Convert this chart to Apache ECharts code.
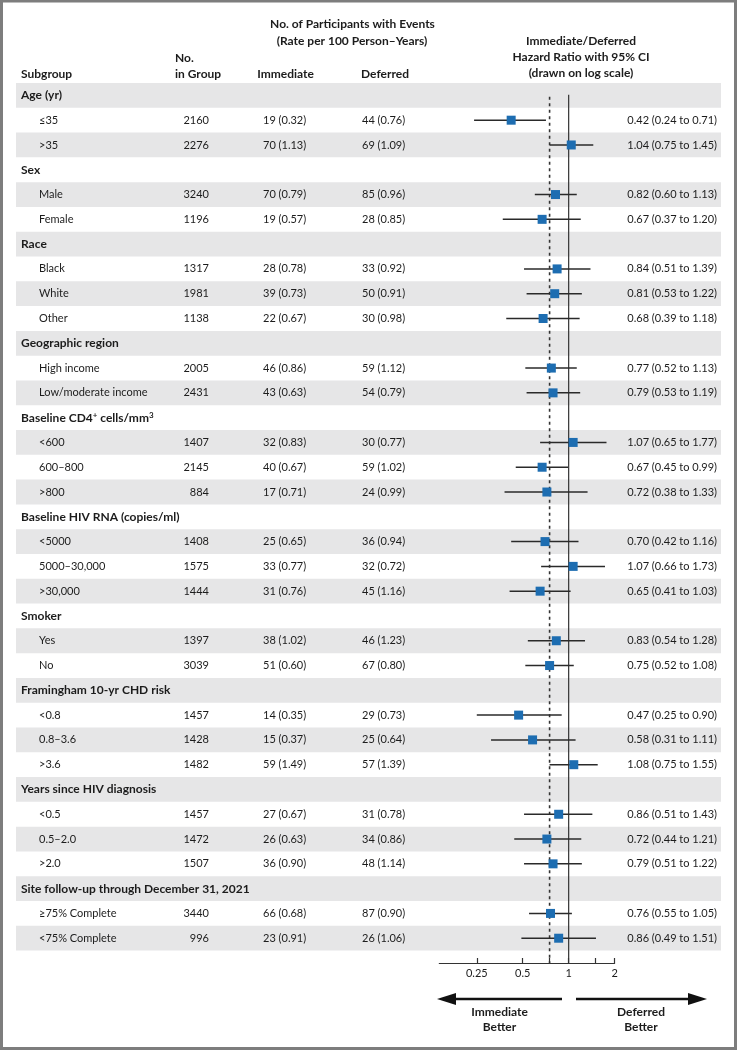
<!DOCTYPE html>
<html>
<head>
<meta charset="utf-8">
<script src="https://cdn.jsdelivr.net/npm/echarts@6/dist/echarts.min.js"></script>
<style>
  html, body { margin: 0; padding: 0; background: #fff; }
  #chart { width: 737px; height: 1050px; }
</style>
</head>
<body>
<div id="chart"></div>
<script>
  // rows of the table (header rows have no numbers)
  var rowNames = ['Age (yr)', '≤35', '>35', 'Sex', 'Male', 'Female', 'Race', 'Black', 'White', 'Other',
    'Geographic region', 'High income', 'Low/moderate income',
    'Baseline CD4{sup|+} cells/mm{sup|3}', '<600', '600–800', '>800',
    'Baseline HIV RNA (copies/ml)', '<5000', '5000–30,000', '>30,000',
    'Smoker', 'Yes', 'No',
    'Framingham 10-yr CHD risk', '<0.8', '0.8–3.6', '>3.6',
    'Years since HIV diagnosis', '<0.5', '0.5–2.0', '>2.0',
    'Site follow-up through December 31, 2021', '≥75% Complete', '<75% Complete'];
  var nGroup = [null, 2160, 2276, null, 3240, 1196, null, 1317, 1981, 1138, null, 2005, 2431, null, 1407, 2145, 884,
    null, 1408, 1575, 1444, null, 1397, 3039, null, 1457, 1428, 1482, null, 1457, 1472, 1507, null, 3440, 996];
  var immEvents = [null, 19, 70, null, 70, 19, null, 28, 39, 22, null, 46, 43, null, 32, 40, 17,
    null, 25, 33, 31, null, 38, 51, null, 14, 15, 59, null, 27, 26, 36, null, 66, 23];
  var immRate = [null, 0.32, 1.13, null, 0.79, 0.57, null, 0.78, 0.73, 0.67, null, 0.86, 0.63, null, 0.83, 0.67, 0.71,
    null, 0.65, 0.77, 0.76, null, 1.02, 0.60, null, 0.35, 0.37, 1.49, null, 0.67, 0.63, 0.90, null, 0.68, 0.91];
  var defEvents = [null, 44, 69, null, 85, 28, null, 33, 50, 30, null, 59, 54, null, 30, 59, 24,
    null, 36, 32, 45, null, 46, 67, null, 29, 25, 57, null, 31, 34, 48, null, 87, 26];
  var defRate = [null, 0.76, 1.09, null, 0.96, 0.85, null, 0.92, 0.91, 0.98, null, 1.12, 0.79, null, 0.77, 1.02, 0.99,
    null, 0.94, 0.72, 1.16, null, 1.23, 0.80, null, 0.73, 0.64, 1.39, null, 0.78, 0.86, 1.14, null, 0.90, 1.06];
  var hr = [null, 0.42, 1.04, null, 0.82, 0.67, null, 0.84, 0.81, 0.68, null, 0.77, 0.79, null, 1.07, 0.67, 0.72,
    null, 0.70, 1.07, 0.65, null, 0.83, 0.75, null, 0.47, 0.58, 1.08, null, 0.86, 0.72, 0.79, null, 0.76, 0.86];
  var ciLow = [null, 0.24, 0.75, null, 0.60, 0.37, null, 0.51, 0.53, 0.39, null, 0.52, 0.53, null, 0.65, 0.45, 0.38,
    null, 0.42, 0.66, 0.41, null, 0.54, 0.52, null, 0.25, 0.31, 0.75, null, 0.51, 0.44, 0.51, null, 0.55, 0.49];
  var ciHigh = [null, 0.71, 1.45, null, 1.13, 1.20, null, 1.39, 1.22, 1.18, null, 1.13, 1.19, null, 1.77, 0.99, 1.33,
    null, 1.16, 1.73, 1.03, null, 1.28, 1.08, null, 0.90, 1.11, 1.55, null, 1.43, 1.21, 1.22, null, 1.05, 1.51];

  // log-scale axis
  var tickValues = [0.25, 0.5, 0.75, 1, 1.5, 2];
  var tickLabels = [0.25, 0.5, 1, 2];
  var axisMin = 0.142, axisMax = 2;
  var overallHR = 0.75;

  var FONT = 'Lato, "Open Sans", sans-serif';
  var INK = '#1c1c1c';
  var l2 = function (v) { return Math.log(v) / Math.LN2; };

  var myChart = echarts.init(document.getElementById('chart'));

  function fmtRate(n, r) { return n + ' (' + r.toFixed(2) + ')'; }

  function renderRow(params, api) {
    var i = api.value(1);
    var y = api.coord([0, i])[1];
    var h = api.size([0, 1])[1];
    var head = nGroup[i] == null;
    var kids = [];
    if (i % 2 === 0) {
      kids.push({ type: 'rect', shape: { x: 16, y: y - h / 2, width: 705, height: h }, style: { fill: '#e6e6e7' } });
    }
    kids.push({
      type: 'text',
      style: {
        text: rowNames[i], x: head ? 21 : 39, y: y, align: 'left', verticalAlign: 'middle',
        fontFamily: FONT, fontSize: head ? 12 : 11, fontWeight: head ? 'bold' : 'normal', fill: INK,
        rich: { sup: { fontSize: 8, fontWeight: 'bold', fontFamily: FONT, verticalAlign: 'top', fill: INK } }
      }
    });
    if (!head) {
      var cell = function (txt, x, al) {
        return { type: 'text', style: { text: txt, x: x, y: y, align: al, verticalAlign: 'middle', fontFamily: FONT, fontSize: 11, fill: INK } };
      };
      kids.push(cell(String(nGroup[i]), 209, 'right'));
      kids.push(cell(fmtRate(immEvents[i], immRate[i]), 263, 'left'));
      kids.push(cell(fmtRate(defEvents[i], defRate[i]), 362, 'left'));
      kids.push(cell(hr[i].toFixed(2) + ' (' + ciLow[i].toFixed(2) + ' to ' + ciHigh[i].toFixed(2) + ')', 717, 'right'));
    }
    return { type: 'group', children: kids };
  }

  function renderCI(params, api) {
    var a = api.coord([api.value(0), api.value(2)]);
    var b = api.coord([api.value(1), api.value(2)]);
    return { type: 'line', shape: { x1: a[0], y1: a[1], x2: b[0], y2: b[1] }, style: { stroke: '#2a2a2a', lineWidth: 1.5 } };
  }

  var ciData = [], pointData = [];
  rowNames.forEach(function (n, i) {
    if (hr[i] != null) {
      ciData.push([l2(ciLow[i]), l2(ciHigh[i]), i]);
      pointData.push([l2(hr[i]), i]);
    }
  });

  function hText(txt, x, y, al) {
    return { type: 'text', x: x, y: y, style: { text: txt, align: al || 'center', verticalAlign: 'middle', fontFamily: FONT, fontSize: 12, fontWeight: 'bold', fill: INK } };
  }

  var option = {
    animation: false,
    grid: { left: 439.3, width: 175.3, top: 83, height: 880 },
    xAxis: {
      type: 'value', min: l2(axisMin), max: l2(axisMax), z: 6,
      splitLine: { show: false },
      axisLine: { onZero: false, lineStyle: { color: '#333', width: 1.2 } },
      axisTick: { inside: true, length: 5, customValues: tickValues.map(l2), lineStyle: { color: '#333', width: 1.2 } },
      axisLabel: {
        customValues: tickLabels.map(l2), margin: 5, fontFamily: FONT, fontSize: 11, color: INK,
        formatter: function (v) { return String(+Math.pow(2, v).toFixed(2)); }
      }
    },
    yAxis: { type: 'value', inverse: true, min: -0.5, max: 35, show: false },
    series: [
      {
        type: 'custom', name: 'table', z: 1, clip: false,
        data: rowNames.map(function (n, i) { return [0, i]; }),
        encode: { x: 0, y: 1 },
        renderItem: renderRow
      },
      {
        type: 'line', z: 3, symbol: 'none', data: [[0, -0.03], [0, 35]],
        lineStyle: { color: '#333', width: 1.2 }
      },
      {
        type: 'line', z: 3, symbol: 'none', data: [[l2(overallHR), 0.05], [l2(overallHR), 35]],
        lineStyle: { color: '#333', width: 1.6, type: [3, 3.5] }
      },
      {
        type: 'custom', z: 4, data: ciData, encode: { x: [0, 1], y: 2 },
        renderItem: renderCI
      },
      {
        type: 'scatter', z: 5, symbol: 'rect', symbolSize: 9, data: pointData,
        itemStyle: { color: '#1d6db1', opacity: 1 }
      }
    ],
    graphic: [
      { type: 'rect', shape: { x: 1.5, y: 1, width: 734, height: 1047.5 }, style: { fill: 'none', stroke: '#7d7d7d', lineWidth: 3 }, silent: true },
      hText('No. of Participants with Events', 352.5, 24),
      hText('(Rate per 100 Person–Years)', 352, 41),
      hText('Subgroup', 21, 74, 'left'),
      hText('No.', 175, 58, 'left'),
      hText('in Group', 175, 74, 'left'),
      hText('Immediate', 285.5, 74),
      hText('Deferred', 385, 74),
      hText('Immediate/Deferred', 581, 41),
      hText('Hazard Ratio with 95% CI', 581, 57),
      hText('(drawn on log scale)', 581, 73),
      // direction arrows
      { type: 'line', shape: { x1: 562, y1: 999, x2: 452, y2: 999 }, style: { stroke: '#111', lineWidth: 2.5 } },
      { type: 'polygon', shape: { points: [[437, 999], [456, 993], [456, 1005]] }, style: { fill: '#111' } },
      { type: 'line', shape: { x1: 576, y1: 999, x2: 692, y2: 999 }, style: { stroke: '#111', lineWidth: 2.5 } },
      { type: 'polygon', shape: { points: [[707, 999], [688, 993], [688, 1005]] }, style: { fill: '#111' } },
      hText('Immediate', 499.5, 1012),
      hText('Better', 499.5, 1027),
      hText('Deferred', 641, 1012),
      hText('Better', 641, 1027)
    ]
  };

  myChart.setOption(option);
</script>
</body>
</html>
